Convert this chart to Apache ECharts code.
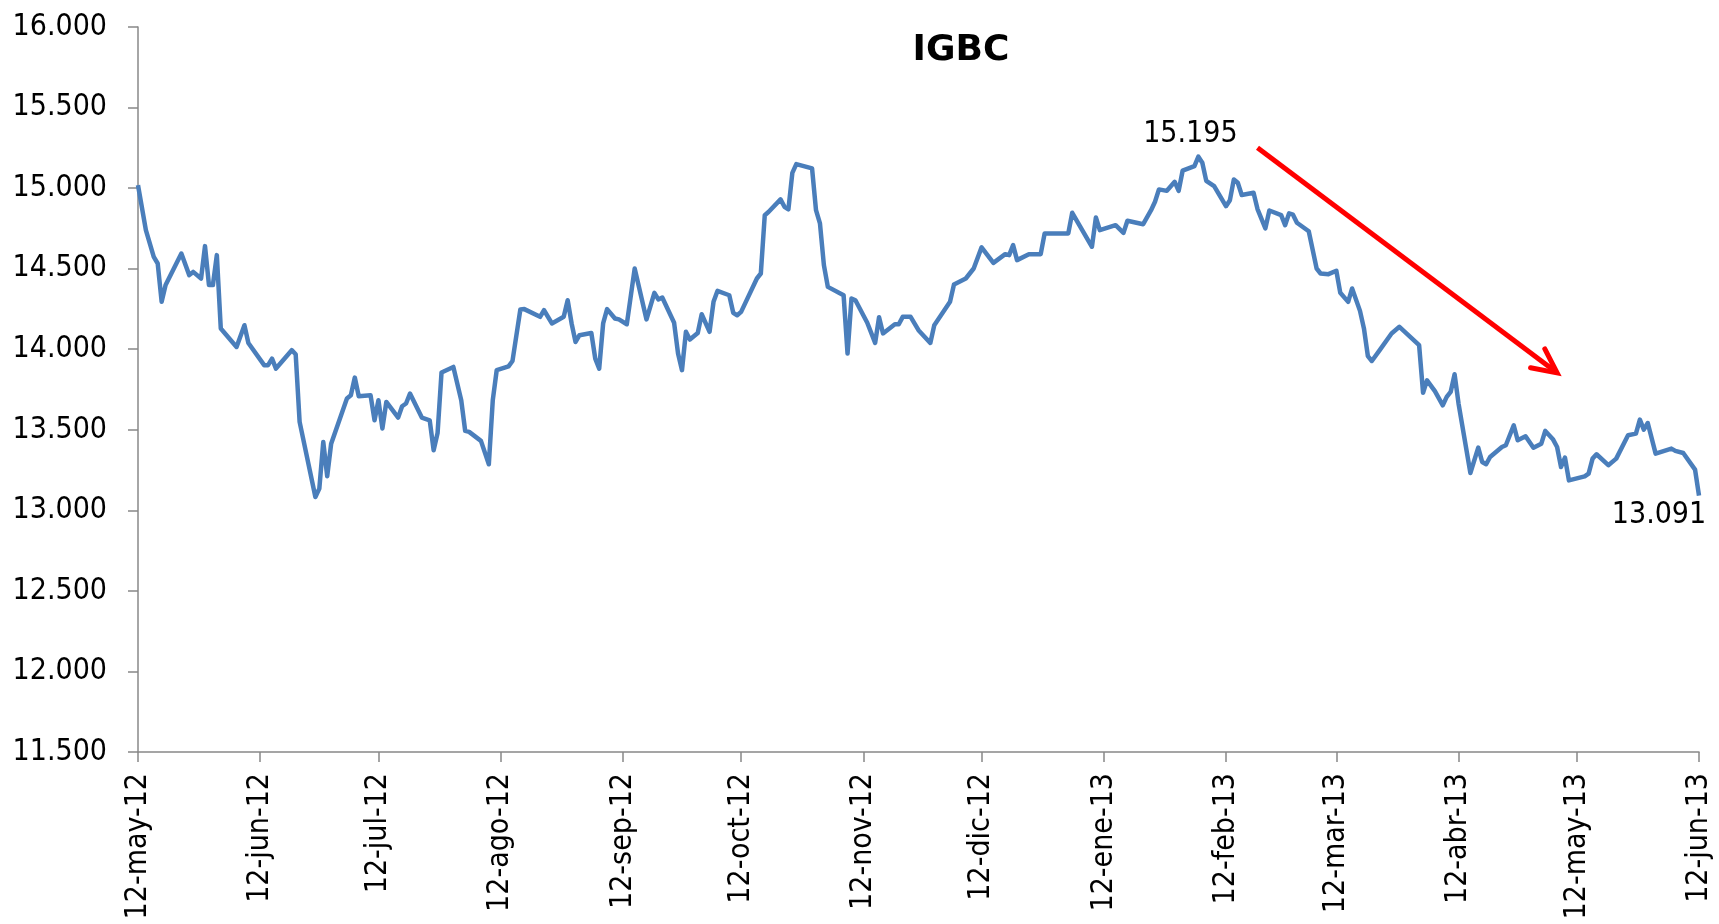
<!DOCTYPE html>
<html>
<head>
<meta charset="utf-8">
<script src="https://cdn.jsdelivr.net/npm/echarts@6/dist/echarts.min.js"></script>
<style>
html,body{margin:0;padding:0;background:#fff;}
#chart{width:1719px;height:924px;}
</style>
</head>
<body>
<div id="chart"></div>
<script>
const chartTitle = 'IGBC';
const dates = [
'2012-05-12','2012-05-14','2012-05-16','2012-05-17','2012-05-18','2012-05-19','2012-05-23','2012-05-25','2012-05-26','2012-05-28',
'2012-05-29','2012-05-30','2012-05-31','2012-06-01','2012-06-02','2012-06-06','2012-06-08','2012-06-09','2012-06-13','2012-06-14',
'2012-06-15','2012-06-16','2012-06-20','2012-06-21','2012-06-22','2012-06-26','2012-06-27','2012-06-28','2012-06-29','2012-06-30',
'2012-07-04','2012-07-05','2012-07-06','2012-07-07','2012-07-10','2012-07-11','2012-07-12','2012-07-13','2012-07-14','2012-07-17',
'2012-07-18','2012-07-19','2012-07-20','2012-07-23','2012-07-25','2012-07-26','2012-07-27','2012-07-28','2012-07-31','2012-08-02',
'2012-08-03','2012-08-04','2012-08-07','2012-08-09','2012-08-10','2012-08-11','2012-08-14','2012-08-15','2012-08-17','2012-08-18',
'2012-08-22','2012-08-23','2012-08-25','2012-08-28','2012-08-29','2012-08-30','2012-08-31','2012-09-01','2012-09-04','2012-09-05',
'2012-09-06','2012-09-07','2012-09-08','2012-09-10','2012-09-11','2012-09-13','2012-09-15','2012-09-18','2012-09-20','2012-09-21',
'2012-09-22','2012-09-25','2012-09-26','2012-09-27','2012-09-28','2012-09-29','2012-10-01','2012-10-02','2012-10-04','2012-10-05',
'2012-10-06','2012-10-09','2012-10-10','2012-10-11','2012-10-12','2012-10-16','2012-10-17','2012-10-18','2012-10-19','2012-10-22',
'2012-10-23','2012-10-24','2012-10-25','2012-10-26','2012-10-30','2012-10-31','2012-11-01','2012-11-02','2012-11-03','2012-11-07',
'2012-11-08','2012-11-09','2012-11-10','2012-11-13','2012-11-15','2012-11-16','2012-11-17','2012-11-20','2012-11-21','2012-11-22',
'2012-11-24','2012-11-26','2012-11-29','2012-11-30','2012-12-04','2012-12-05','2012-12-08','2012-12-10','2012-12-12','2012-12-15',
'2012-12-18','2012-12-19','2012-12-20','2012-12-21','2012-12-24','2012-12-27','2012-12-28','2013-01-03','2013-01-04','2013-01-09',
'2013-01-10','2013-01-11','2013-01-15','2013-01-17','2013-01-18','2013-01-22','2013-01-24','2013-01-25','2013-01-26','2013-01-28',
'2013-01-30','2013-01-31','2013-02-01','2013-02-04','2013-02-05','2013-02-06','2013-02-07','2013-02-09','2013-02-12','2013-02-13',
'2013-02-14','2013-02-15','2013-02-16','2013-02-19','2013-02-20','2013-02-22','2013-02-23','2013-02-26','2013-02-27','2013-02-28',
'2013-03-01','2013-03-02','2013-03-05','2013-03-07','2013-03-08','2013-03-10','2013-03-12','2013-03-13','2013-03-15','2013-03-16',
'2013-03-18','2013-03-19','2013-03-20','2013-03-21','2013-03-23','2013-03-26','2013-03-28','2013-04-02','2013-04-03','2013-04-04',
'2013-04-06','2013-04-08','2013-04-09','2013-04-10','2013-04-11','2013-04-12','2013-04-15','2013-04-17','2013-04-18','2013-04-19',
'2013-04-20','2013-04-23','2013-04-24','2013-04-26','2013-04-27','2013-04-29','2013-05-01','2013-05-03','2013-05-04','2013-05-06',
'2013-05-07','2013-05-08','2013-05-09','2013-05-10','2013-05-14','2013-05-15','2013-05-16','2013-05-17','2013-05-20','2013-05-22',
'2013-05-25','2013-05-27','2013-05-28','2013-05-29','2013-05-30','2013-06-01','2013-06-05','2013-06-06','2013-06-08','2013-06-11',
'2013-06-12'
];
const values = [
15019,14739,14573,14532,14294,14398,14594,14460,14480,14439,
14640,14398,14398,14584,14129,14014,14149,14039,13901,13901,
13942,13880,13994,13969,13549,13083,13135,13424,13211,13414,
13694,13714,13824,13708,13714,13559,13683,13508,13673,13576,
13646,13663,13725,13576,13559,13373,13480,13856,13890,13683,
13493,13487,13431,13286,13683,13870,13894,13927,14247,14249,
14201,14242,14160,14201,14304,14160,14045,14087,14101,13942,
13880,14160,14249,14191,14185,14155,14501,14185,14350,14309,
14321,14164,13973,13870,14108,14060,14101,14217,14108,14294,
14362,14335,14226,14211,14232,14439,14470,14832,14853,14930,
14884,14868,15095,15149,15122,14863,14781,14522,14387,14335,
13973,14315,14304,14164,14039,14199,14098,14155,14155,14201,
14201,14118,14039,14149,14294,14402,14439,14501,14632,14536,
14590,14584,14646,14553,14590,14590,14719,14719,14847,14636,
14818,14739,14770,14722,14797,14776,14863,14915,14992,14983,
15039,14983,15108,15137,15195,15157,15045,15012,14888,14925,
15054,15033,14957,14971,14870,14750,14861,14832,14770,14843,
14835,14785,14732,14501,14470,14466,14487,14350,14294,14377,
14238,14129,13957,13927,13994,14098,14139,14025,13730,13807,
13740,13652,13704,13735,13845,13663,13232,13389,13300,13286,
13331,13393,13404,13528,13435,13460,13389,13414,13493,13439,
13393,13269,13327,13186,13211,13228,13321,13348,13280,13321,
13466,13476,13563,13501,13542,13352,13383,13369,13356,13253,
13091
];
const axisStart = '2012-05-12';
const axisEnd = '2013-06-12';
const tickDates = ['2012-05-12','2012-06-12','2012-07-12','2012-08-12','2012-09-12','2012-10-12','2012-11-12',
  '2012-12-12','2013-01-12','2013-02-12','2013-03-12','2013-04-12','2013-05-12','2013-06-12'];
const monthAbbr = ['ene','feb','mar','abr','may','jun','jul','ago','sep','oct','nov','dic'];
const yMin = 11500, yMax = 16000, yStep = 500;
const trendFrom = ['2013-02-20', 15250];
const trendTo = ['2013-05-07', 13853];

function ts(s){ const p = s.split('-').map(Number); return Date.UTC(p[0], p[1]-1, p[2]); }
function fmtNum(v){ v = Math.round(v); const th = Math.floor(v/1000), r = v % 1000; return th + '.' + String(r).padStart(3,'0'); }
function fmtDate(t){ const d = new Date(Math.round(t)); return d.getUTCDate() + '-' + monthAbbr[d.getUTCMonth()] + '-' + String(d.getUTCFullYear()).slice(2); }

const FONT = '"DejaVu Sans Condensed", "Liberation Sans", sans-serif';
let maxIdx = 0; values.forEach((v,i)=>{ if (v > values[maxIdx]) maxIdx = i; });
const lastIdx = values.length - 1;
const seriesData = dates.map((d,i)=>[ts(d), values[i]]);
const tickVals = tickDates.map(ts);

const chart = echarts.init(document.getElementById('chart'), null, { renderer: 'canvas' });
chart.setOption({
  animation: false,
  backgroundColor: '#ffffff',
  title: {
    text: chartTitle, left: 956, top: 28, textAlign: 'center',
    textStyle: { fontFamily: '"DejaVu Sans", sans-serif', fontWeight: 'bold', fontSize: 36, color: '#000' }
  },
  grid: { left: 138, right: 20, top: 27, bottom: 172, containLabel: false, outerBoundsMode: 'none' },
  xAxis: {
    type: 'value', min: ts(axisStart), max: ts(axisEnd), scale: true,
    axisLine: { show: true, onZero: false, lineStyle: { color: '#888888', width: 1.5 } },
    axisTick: { show: true, length: 10, lineStyle: { color: '#888888', width: 1.5 }, customValues: tickVals },
    axisLabel: { show: true, rotate: 90, margin: 21, fontSize: 30, fontFamily: FONT, color: '#000',
      customValues: tickVals, formatter: fmtDate, hideOverlap: false, showMinLabel: true, showMaxLabel: true },
    splitLine: { show: false }
  },
  yAxis: {
    type: 'value', min: yMin, max: yMax, interval: yStep,
    axisLine: { show: true, lineStyle: { color: '#888888', width: 1.5 } },
    axisTick: { show: true, length: 10, lineStyle: { color: '#888888', width: 1.5 } },
    axisLabel: { margin: 31, fontSize: 30, fontFamily: FONT, color: '#000', formatter: fmtNum },
    splitLine: { show: false }
  },
  series: [{
    type: 'line', data: seriesData, showSymbol: false, symbol: 'none',
    lineStyle: { color: '#4A7EBB', width: 4.5, join: 'round' },
    itemStyle: { color: '#4A7EBB' },
    markPoint: {
      silent: true, animation: false, symbol: 'circle', symbolSize: 0,
      itemStyle: { color: 'rgba(0,0,0,0)' },
      label: { show: true, fontSize: 30, fontFamily: FONT, color: '#000', formatter: p => fmtNum(p.value) },
      data: [
        { coord: seriesData[maxIdx], value: values[maxIdx], label: { position: 'top', distance: 7, offset: [-8, 0] } },
        { coord: seriesData[lastIdx], value: values[lastIdx], label: { position: 'bottom', distance: 5, offset: [-40, 0] } }
      ]
    }
  }]
});

// trend arrow annotation, placed through the chart's own scales
const a = chart.convertToPixel({ gridIndex: 0 }, [ts(trendFrom[0]), trendFrom[1]]);
const b = chart.convertToPixel({ gridIndex: 0 }, [ts(trendTo[0]), trendTo[1]]);
const ang = Math.atan2(b[1] - a[1], b[0] - a[0]);
const armLen = 27, armAng = 26 * Math.PI / 180;
const arm1 = [b[0] - armLen * Math.cos(ang - armAng), b[1] - armLen * Math.sin(ang - armAng)];
const arm2 = [b[0] - armLen * Math.cos(ang + armAng), b[1] - armLen * Math.sin(ang + armAng)];
const tipBack = [b[0] - 3 * Math.cos(ang), b[1] - 3 * Math.sin(ang)];
chart.setOption({
  graphic: [
    { type: 'line', silent: true, shape: { x1: a[0], y1: a[1], x2: tipBack[0], y2: tipBack[1] },
      style: { stroke: '#FF0000', lineWidth: 5, lineCap: 'butt' }, z: 100 },
    { type: 'polyline', silent: true, shape: { points: [arm1, b, arm2] },
      style: { stroke: '#FF0000', lineWidth: 5, lineJoin: 'miter', lineCap: 'round', fill: null }, z: 100 }
  ]
});
</script>
</body>
</html>
